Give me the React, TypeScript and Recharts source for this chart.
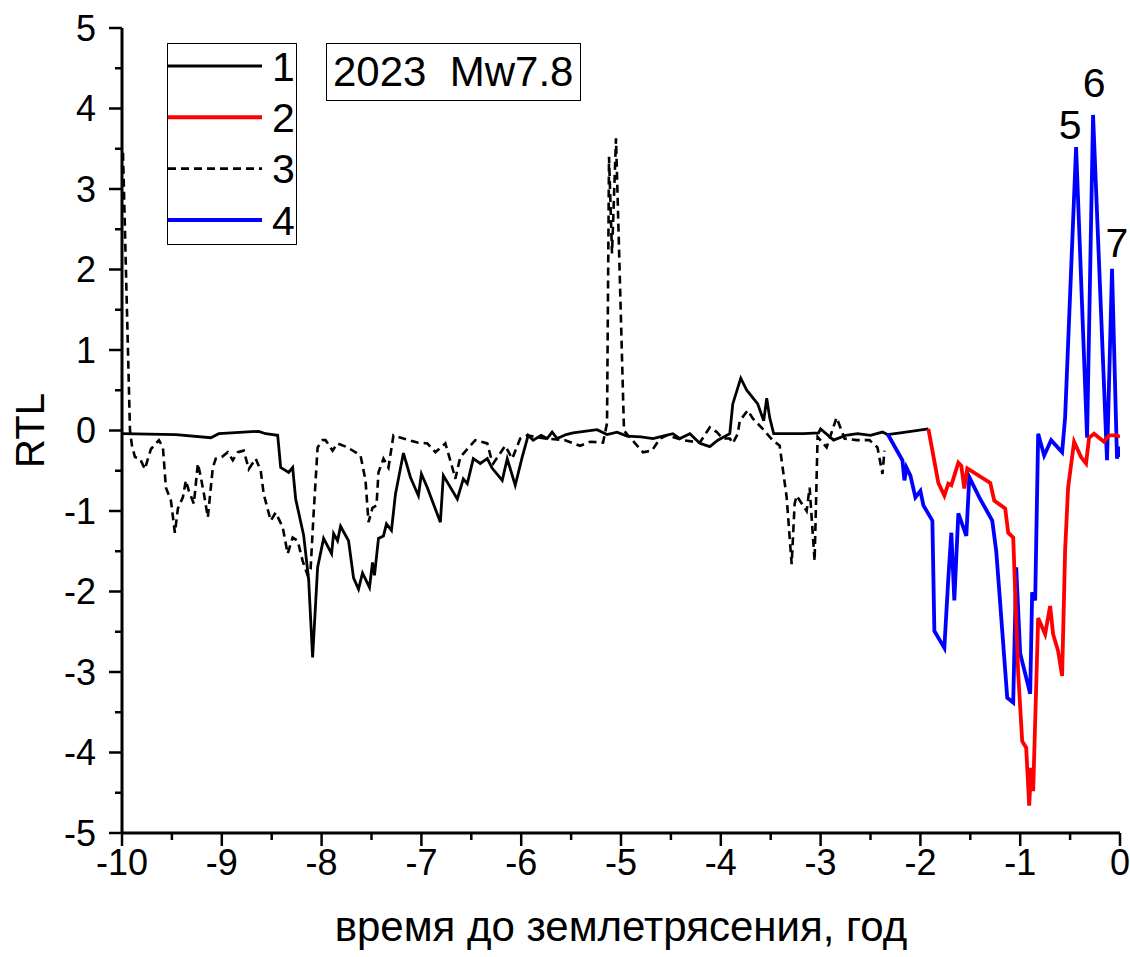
import React from 'react';
import { LineChart, Line, XAxis, YAxis, Legend, ReferenceDot } from 'recharts';

// RTL curves, [years before the earthquake, RTL value]
const rtl1 = [
  [-10, -0.04], [-9.46, -0.05], [-9.11, -0.09], [-9.03, -0.04], [-8.63, -0.01], [-8.56, -0.04],
  [-8.44, -0.06], [-8.41, -0.46], [-8.33, -0.52], [-8.29, -0.46], [-8.26, -0.85], [-8.18, -1.3],
  [-8.13, -1.85], [-8.09, -2.82], [-8.04, -1.7], [-7.98, -1.34], [-7.9, -1.53], [-7.88, -1.28],
  [-7.84, -1.37], [-7.81, -1.19], [-7.73, -1.37], [-7.68, -1.83], [-7.63, -1.97], [-7.59, -1.77],
  [-7.52, -1.95], [-7.49, -1.64], [-7.47, -1.8], [-7.43, -1.34], [-7.38, -1.31], [-7.35, -1.16],
  [-7.3, -1.24], [-7.26, -0.79], [-7.18, -0.28], [-7.11, -0.58], [-7.03, -0.81], [-7.0, -0.54],
  [-6.94, -0.71], [-6.88, -0.91], [-6.81, -1.14], [-6.78, -0.56], [-6.64, -0.85], [-6.58, -0.6],
  [-6.54, -0.66], [-6.48, -0.35], [-6.41, -0.41], [-6.34, -0.35], [-6.29, -0.47], [-6.19, -0.62],
  [-6.14, -0.35], [-6.06, -0.68], [-5.99, -0.33], [-5.93, -0.06], [-5.88, -0.12], [-5.8, -0.06],
  [-5.74, -0.1], [-5.69, -0.02], [-5.64, -0.1], [-5.55, -0.05], [-5.48, -0.03], [-5.24, 0.01],
  [-5.14, -0.05], [-5.04, -0.02], [-4.94, -0.07], [-4.8, -0.08], [-4.68, -0.1], [-4.55, -0.06],
  [-4.48, -0.04], [-4.41, -0.1], [-4.31, -0.04], [-4.21, -0.16], [-4.11, -0.2], [-4.03, -0.12],
  [-3.91, -0.04], [-3.88, 0.33], [-3.8, 0.65], [-3.74, 0.5], [-3.63, 0.33], [-3.57, 0.12],
  [-3.54, 0.4], [-3.51, 0.16], [-3.47, -0.04], [-3.17, -0.04], [-3.02, -0.03], [-3.0, 0.02],
  [-2.87, -0.12], [-2.75, -0.06], [-2.63, -0.04], [-2.5, -0.06], [-2.38, -0.02], [-2.33, -0.05],
  [-2.2, -0.03], [-1.92, 0.02],
];

const rtl2 = [
  [-1.92, 0.02], [-1.82, -0.65], [-1.76, -0.81], [-1.72, -0.66], [-1.69, -0.68], [-1.66, -0.56],
  [-1.62, -0.4], [-1.59, -0.44], [-1.56, -0.72], [-1.53, -0.47], [-1.3, -0.65], [-1.26, -0.87],
  [-1.15, -0.97], [-1.12, -1.27], [-1.07, -1.33], [-1.02, -3.02], [-0.98, -3.86], [-0.94, -3.94],
  [-0.91, -4.66], [-0.89, -4.19], [-0.87, -4.48], [-0.82, -2.33], [-0.75, -2.53], [-0.7, -2.18],
  [-0.67, -2.53], [-0.62, -2.74], [-0.58, -3.05], [-0.55, -1.49], [-0.52, -0.71], [-0.46, -0.14],
  [-0.39, -0.33], [-0.34, -0.41], [-0.31, -0.09], [-0.26, -0.04], [-0.16, -0.14], [-0.11, -0.06],
  [-0.03, -0.06], [0, -0.08],
];

const rtl3 = [
  [-9.99, 3.45], [-9.92, 0.0], [-9.9, -0.19], [-9.87, -0.33], [-9.82, -0.35], [-9.77, -0.48],
  [-9.74, -0.35], [-9.71, -0.23], [-9.63, -0.12], [-9.59, -0.21], [-9.56, -0.71], [-9.51, -0.87],
  [-9.47, -1.27], [-9.44, -0.97], [-9.39, -0.83], [-9.36, -0.62], [-9.33, -0.75], [-9.28, -0.91],
  [-9.24, -0.41], [-9.21, -0.58], [-9.18, -0.78], [-9.14, -1.08], [-9.09, -0.46], [-9.06, -0.35],
  [-9.0, -0.33], [-8.94, -0.27], [-8.89, -0.37], [-8.84, -0.27], [-8.78, -0.25], [-8.73, -0.48],
  [-8.66, -0.35], [-8.61, -0.5], [-8.58, -0.79], [-8.51, -1.12], [-8.46, -1.02], [-8.39, -1.2],
  [-8.34, -1.53], [-8.29, -1.33], [-8.24, -1.37], [-8.19, -1.62], [-8.14, -1.8], [-8.11, -1.72],
  [-8.08, -1.03], [-8.04, -0.21], [-7.99, -0.12], [-7.96, -0.12], [-7.89, -0.25], [-7.84, -0.16],
  [-7.74, -0.21], [-7.61, -0.31], [-7.56, -0.62], [-7.53, -1.14], [-7.49, -0.96], [-7.45, -0.93],
  [-7.43, -0.52], [-7.38, -0.35], [-7.33, -0.46], [-7.28, -0.06], [-7.18, -0.1], [-7.04, -0.15],
  [-6.94, -0.16], [-6.86, -0.27], [-6.76, -0.16], [-6.69, -0.46], [-6.66, -0.6], [-6.61, -0.33],
  [-6.51, -0.19], [-6.46, -0.12], [-6.34, -0.16], [-6.3, -0.35], [-6.28, -0.41], [-6.16, -0.19],
  [-6.09, -0.35], [-6.01, -0.1], [-5.94, -0.06], [-5.76, -0.1], [-5.56, -0.12], [-5.41, -0.19],
  [-5.31, -0.14], [-5.18, -0.15], [-5.14, 0.09], [-5.12, 3.4], [-5.09, 2.2], [-5.05, 3.63],
  [-4.97, 0.0], [-4.93, -0.06], [-4.78, -0.27], [-4.69, -0.25], [-4.61, -0.1], [-4.54, -0.06],
  [-4.38, -0.12], [-4.21, -0.15], [-4.11, 0.04], [-4.04, -0.02], [-3.98, -0.1], [-3.91, -0.1],
  [-3.88, -0.16], [-3.83, -0.04], [-3.81, 0.12], [-3.73, 0.25], [-3.68, 0.15], [-3.58, 0.02],
  [-3.51, -0.08], [-3.48, -0.12], [-3.41, -0.19], [-3.34, -0.83], [-3.29, -1.66], [-3.26, -0.91],
  [-3.24, -0.81], [-3.14, -1.0], [-3.11, -0.71], [-3.06, -1.62], [-3.03, -0.08], [-2.94, -0.21],
  [-2.84, 0.16], [-2.76, -0.1], [-2.64, -0.12], [-2.51, -0.12], [-2.43, -0.21], [-2.38, -0.54],
  [-2.36, -0.25],
];

const rtl4 = [
  [-2.33, -0.04], [-2.18, -0.37], [-2.16, -0.62], [-2.14, -0.46], [-2.1, -0.56], [-2.05, -0.83],
  [-2.0, -0.75], [-1.97, -0.93], [-1.88, -1.12], [-1.86, -2.49], [-1.76, -2.7], [-1.72, -1.83],
  [-1.69, -1.27], [-1.66, -2.11], [-1.62, -1.03], [-1.54, -1.31], [-1.51, -0.58], [-1.41, -0.83],
  [-1.28, -1.12], [-1.24, -1.5], [-1.21, -1.99], [-1.13, -3.32], [-1.07, -3.38], [-1.04, -1.7],
  [-1.0, -2.77], [-0.9, -3.27], [-0.88, -2.01], [-0.85, -2.11], [-0.82, -0.04], [-0.76, -0.31],
  [-0.69, -0.12], [-0.58, -0.27], [-0.55, 0.16], [-0.44, 3.52], [-0.33, -0.09], [-0.27, 3.92],
  [-0.13, -0.37], [-0.08, 2.01], [-0.03, -0.35], [-0.01, -0.2], [0, -0.33],
];

const xTicks = [-10, -9.5, -9, -8.5, -8, -7.5, -7, -6.5, -6, -5.5, -5, -4.5, -4, -3.5, -3, -2.5, -2, -1.5, -1, -0.5, 0];
const yTicks = [-5, -4.5, -4, -3.5, -3, -2.5, -2, -1.5, -1, -0.5, 0, 0.5, 1, 1.5, 2, 2.5, 3, 3.5, 4, 4.5, 5];

const peakLabels = [
  { x: -0.5, y: 3.8, text: '5' },
  { x: -0.26, y: 4.32, text: '6' },
  { x: -0.03, y: 2.33, text: '7' },
];

const legendItems = [
  { label: '1', color: '#000000', dash: undefined, width: 2.8 },
  { label: '2', color: '#ff0000', dash: undefined, width: 4 },
  { label: '3', color: '#000000', dash: '8 5', width: 2.8 },
  { label: '4', color: '#0000ff', dash: undefined, width: 4 },
];

const FONT = '"Liberation Sans", Arial, sans-serif';

const toPts = (rows: number[][]) => rows.map(([x, y]) => ({ x, y }));

const XTick = (props: any) => {
  const { x, y, payload } = props;
  const major = Number.isInteger(payload.value);
  return (
    <g>
      <line x1={x} x2={x} y1={y} y2={y + (major ? 13 : 7)} stroke="#000" strokeWidth={2.5} />
      {major && (
        <text x={x} y={y + 16} dy="0.72em" textAnchor="middle" fontSize={36} fontFamily={FONT} fill="#000">
          {payload.value}
        </text>
      )}
    </g>
  );
};

const YTick = (props: any) => {
  const { x, y, payload } = props;
  const major = Number.isInteger(payload.value);
  return (
    <g>
      <line x1={x} x2={x - (major ? 13 : 7)} y1={y} y2={y} stroke="#000" strokeWidth={2.5} />
      {major && (
        <text x={x - 26} y={y} dy="0.36em" textAnchor="end" fontSize={36} fontFamily={FONT} fill="#000">
          {payload.value}
        </text>
      )}
    </g>
  );
};

const LegendBox = () => (
  <div style={{ width: 130, height: 202, border: '1.5px solid #000', boxSizing: 'border-box', background: '#fff' }}>
    <svg width={127} height={199} style={{ display: 'block' }}>
      {legendItems.map((it, i) => (
        <g key={it.label}>
          <line x1={0} x2={94} y1={22 + i * 51.3} y2={22 + i * 51.3} stroke={it.color} strokeWidth={it.width} strokeDasharray={it.dash} />
          <text x={104} y={22 + i * 51.3} dy="0.36em" fontSize={41} fontFamily={FONT} fill="#000">{it.label}</text>
        </g>
      ))}
    </svg>
  </div>
);

export default function App() {
  return (
    <div style={{ position: 'absolute', left: 0, top: 0, width: 1130, height: 957, background: '#fff' }}>
      <LineChart width={1130} height={957} margin={{ top: 28, right: 10, bottom: 0, left: 0 }}>
        <XAxis
          type="number"
          dataKey="x"
          domain={[-10, 0]}
          ticks={xTicks}
          interval={0}
          allowDataOverflow
          height={124}
          tickSize={0}
          tickMargin={0}
          tickLine={false}
          tick={<XTick />}
          axisLine={{ stroke: '#000', strokeWidth: 3 }}
          label={(p: any) => (
            <text
              x={p.viewBox.x + p.viewBox.width / 2}
              y={p.viewBox.y + 108}
              textAnchor="middle"
              fontSize={42}
              fontFamily={FONT}
              fill="#000"
            >
              время до землетрясения, год
            </text>
          )}
        />
        <YAxis
          type="number"
          dataKey="y"
          domain={[-5, 5]}
          ticks={yTicks}
          interval={0}
          allowDataOverflow
          width={122}
          tickSize={0}
          tickMargin={0}
          tickLine={false}
          tick={<YTick />}
          axisLine={{ stroke: '#000', strokeWidth: 3 }}
          label={(p: any) => (
            <text
              x={30}
              y={p.viewBox.y + p.viewBox.height / 2}
              transform={`rotate(-90, 30, ${p.viewBox.y + p.viewBox.height / 2})`}
              textAnchor="middle"
              dominantBaseline="central"
              fontSize={40}
              fontFamily={FONT}
              fill="#000"
            >
              RTL
            </text>
          )}
        />
        <Legend
          layout="vertical"
          align="center"
          verticalAlign="middle"
          wrapperStyle={{ left: 167, top: 43, width: 130, height: 202 }}
          content={() => <LegendBox />}
        />
        <Line data={toPts(rtl3)} dataKey="y" type="linear" stroke="#000" strokeWidth={2.6} strokeDasharray="8 5" dot={false} isAnimationActive={false} />
        <Line data={toPts(rtl1)} dataKey="y" type="linear" stroke="#000" strokeWidth={2.8} dot={false} isAnimationActive={false} />
        <Line data={toPts(rtl4)} dataKey="y" type="linear" stroke="#0000ff" strokeWidth={3.8} dot={false} isAnimationActive={false} />
        <Line data={toPts(rtl2)} dataKey="y" type="linear" stroke="#ff0000" strokeWidth={3.8} dot={false} isAnimationActive={false} />
        {peakLabels.map((p) => (
          <ReferenceDot
            key={p.text}
            x={p.x}
            y={p.y}
            r={0}
            ifOverflow="visible"
            label={{ value: p.text, position: 'center', fontSize: 41, fontFamily: FONT, fill: '#000' }}
          />
        ))}
      </LineChart>
      <div
        style={{
          position: 'absolute',
          left: 326,
          top: 43,
          width: 255,
          height: 58,
          border: '1.5px solid #000',
          boxSizing: 'border-box',
          fontFamily: FONT,
          fontSize: 42,
          lineHeight: '55px',
          paddingLeft: 6,
          whiteSpace: 'pre',
          color: '#000',
        }}
      >
        2023  Mw7.8
      </div>
    </div>
  );
}
